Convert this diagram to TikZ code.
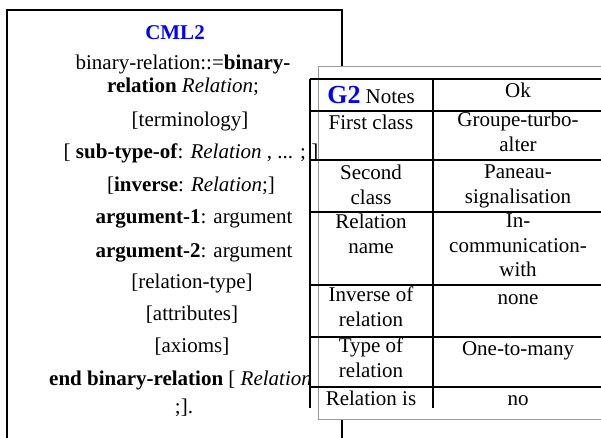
\documentclass[tikz,border=0pt]{standalone}
\usepackage{fontspec}
\setmainfont{Liberation Serif}

\tikzset{
  txt/.style={anchor=base,inner sep=0pt,font=\fontsize{21}{24.5}\selectfont},
  cell/.style={anchor=north,inner sep=0pt,align=center,font=\fontsize{21}{24.5}\selectfont,execute at begin node=\strut},
  rule/.style={line width=1.6pt},
}

\begin{document}
\begin{tikzpicture}[x=1pt,y=-1pt]
\useasboundingbox (0,0) rectangle (601,438);
\clip (0,0) rectangle (601,438);
% CML2 sheet
\draw[line width=1.5pt] (7,450) -- (7,10) -- (342,10) -- (342,450);
\node[txt,text=blue,font=\bfseries\fontsize{21}{24.5}\selectfont] (title) at (175,40) {CML2};
\node[txt] (def1) at (183,70) {binary-relation::=\textbf{binary-}};
\node[txt] (def2) at (183,93) {\textbf{relation} \textit{Relation};};
\node[txt] (term) at (190,127) {[terminology]};
\node[txt] (sub) at (191,159) {[ \textbf{sub-type-of}: \textit{Relation} , ... ; ]};
\node[txt] (inv) at (191,192) {[\textbf{inverse}: \textit{Relation};]};
\node[txt] (arg1) at (194,223) {\textbf{argument-1}: argument};
\node[txt] (arg2) at (194,257) {\textbf{argument-2}: argument};
\node[txt] (rtype) at (192,288) {[relation-type]};
\node[txt] (attr) at (192,320) {[attributes]};
\node[txt] (axioms) at (192,352) {[axioms]};
\node[txt,anchor=base west] (end1) at (49,385) {\textbf{end binary-relation} [ \textit{Relation}};
\node[txt] (end2) at (184,413) {;].};

% G2 sheet on top
\draw[gray!80,line width=1pt,fill=white] (318,67) rectangle (620,419);
\draw[rule] (310,79) -- (310,408) (433,79) -- (433,408);
\foreach \y in {79,111,160,212,285,337,387}
  \draw[rule] (310,\y) -- (601,\y);

% left column
\node[cell] (notes) at (371,86) {{\color{blue}\bfseries\fontsize{26}{26}\selectfont G2} Notes};
\node[cell] (first) at (371,112) {First class};
\node[cell] (second) at (371,165) {Second\\class};
\node[cell] (rname) at (371,214) {Relation\\name};
\node[cell] (inverse) at (371,287) {Inverse of\\relation};
\node[cell] (type) at (371,338) {Type of\\relation};
\node[cell] (is) at (371,388) {Relation is};
% right column
\node[cell] (ok) at (518,80) {Ok};
\node[cell] (firstval) at (518,112) {Groupe-turbo-\\alter};
\node[cell] (secondval) at (518,165) {Paneau-\\signalisation};
\node[cell] (rnameval) at (518,214) {In-\\communication-\\with};
\node[cell] (inverseval) at (518,287) {none};
\node[cell] (typeval) at (518,338) {One-to-many};
\node[cell] (isval) at (518,388) {no};
\end{tikzpicture}
\end{document}
